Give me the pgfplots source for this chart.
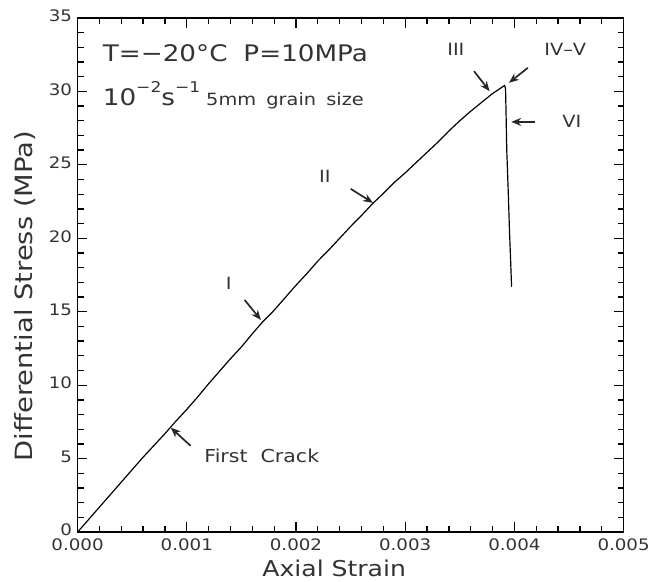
\documentclass[border=0pt]{standalone}
\usepackage{fontspec}
\setmainfont{DejaVu Sans}[FakeStretch=1.15]
\usepackage{pgfplots}
\pgfplotsset{compat=1.18}
\usetikzlibrary{arrows.meta}
\begin{document}
\begin{tikzpicture}
\begin{axis}[
  width=549bp, height=517bp, scale only axis,
  xmin=0, xmax=0.005, ymin=0, ymax=35,
  scaled x ticks=false,
  xtick={0,0.001,0.002,0.003,0.004,0.005},
  xticklabels={0.000,0.001,0.002,0.003,0.004,0.005},
  ytick={0,5,10,15,20,25,30,35},
  minor x tick num=4, minor y tick num=4,
  xtick pos=both, ytick pos=both,
  xtick align=inside, ytick align=inside,
  major tick length=10pt, minor tick length=6pt,
  major tick style={black, line width=1.3pt},
  minor tick style={black, line width=1.3pt},
  axis line style={line width=1.3pt},
  /pgf/number format/assume math mode=true,
  tick label style={font=\fontsize{16}{18}\selectfont, text=black!80},
  xticklabel style={yshift=-3bp},
  yticklabel style={xshift=-2bp, yshift=2bp},
  xlabel={Axial Strain}, ylabel={Differential Stress (MPa)},
  xlabel style={font=\fontsize{22}{24}\selectfont, text=black!80, inner sep=1bp, at={(axis description cs:0.47,0)}, anchor=base, yshift=-45bp},
  ylabel style={font=\fontsize{24}{26}\selectfont, text=black!80, inner sep=1bp, at={(axis description cs:-0.096,0.459)}, anchor=center},
]
\addplot[black, line width=1.2bp] table {
x y
0 0
0.0001 0.85
0.0002 1.7
0.0003 2.55
0.0004 3.4
0.0005 4.25
0.0006 5.1
0.0007 5.9
0.0008 6.7
0.0009 7.55
0.0010 8.35
0.0011 9.2
0.0012 10.1
0.0013 10.95
0.0014 11.8
0.0015 12.6
0.0016 13.5
0.0017 14.35
0.0018 15.1
0.0019 15.95
0.0020 16.8
0.0021 17.6
0.0022 18.45
0.0023 19.2
0.0024 20.0
0.0025 20.8
0.0026 21.55
0.0027 22.35
0.0028 23.05
0.0029 23.8
0.0030 24.45
0.0031 25.15
0.0032 25.85
0.0033 26.55
0.0034 27.3
0.0035 28.0
0.0036 28.65
0.0037 29.25
0.0038 29.85
0.00387 30.2
0.00391 30.4
0.003919 30.2
0.003925 28.0
0.00393 26.0
0.003944 23.1
0.003955 20.5
0.003965 18.6
0.003974 16.7
};
% text block
\node[anchor=base west, inner sep=0pt, text=black!80, font=\fontsize{23}{26}\selectfont] at (axis cs:0.00023,32.04) {T=−20°C\hspace{0.7em}P=10MPa};
\node[anchor=base west, inner sep=0pt, text=black!80] at (axis cs:0.00023,29.05) {{\fontsize{23}{26}\selectfont 10\raisebox{0.55em}{\fontsize{15}{15}\selectfont −2}s\raisebox{0.55em}{\fontsize{15}{15}\selectfont −1}}\hspace{0.6em}{\fontsize{17}{19}\selectfont 5mm\hspace{0.6em}grain\hspace{0.6em}size}};
% labels
\node[text=black!80, font=\fontsize{18}{20}\selectfont, anchor=west] at (axis cs:0.00113,5.19) {First\ \ Crack};
\node[text=black!80, font=\fontsize{17}{19}\selectfont] at (axis cs:0.001384,16.93) {I};
\node[text=black!80, font=\fontsize{17}{19}\selectfont] at (axis cs:0.002265,24.22) {II};
\node[text=black!80, font=\fontsize{17}{19}\selectfont] at (axis cs:0.003464,32.84) {III};
\node[text=black!80, font=\fontsize{17}{19}\selectfont] at (axis cs:0.004466,32.84) {IV--V};
\node[text=black!80, font=\fontsize{17}{19}\selectfont] at (axis cs:0.004526,27.98) {VI};
% arrows
\draw[-{Stealth[length=10bp,width=8bp]}, line width=1.7bp, black!85] (axis cs:0.001035,5.87) -- (axis cs:0.000853,7.11);
\draw[-{Stealth[length=10bp,width=8bp]}, line width=1.7bp, black!85] (axis cs:0.00153,15.8) -- (axis cs:0.001679,14.44);
\draw[-{Stealth[length=10bp,width=8bp]}, line width=1.7bp, black!85] (axis cs:0.002502,23.36) -- (axis cs:0.002705,22.41);
\draw[-{Stealth[length=10bp,width=8bp]}, line width=1.7bp, black!85] (axis cs:0.003631,31.37) -- (axis cs:0.003773,30.01);
\draw[-{Stealth[length=10bp,width=8bp]}, line width=1.7bp, black!85] (axis cs:0.004123,31.6) -- (axis cs:0.00395,30.58);
\draw[-{Stealth[length=10bp,width=8bp]}, line width=1.7bp, black!85] (axis cs:0.004192,27.92) -- (axis cs:0.003971,27.92);
\end{axis}
% extend the picture's box (invisible) to the reference's margins
\path ([xshift=-78bp,yshift=-50bp]current axis.south west) ([xshift=28bp,yshift=18bp]current axis.north east);
\end{tikzpicture}
\end{document}
